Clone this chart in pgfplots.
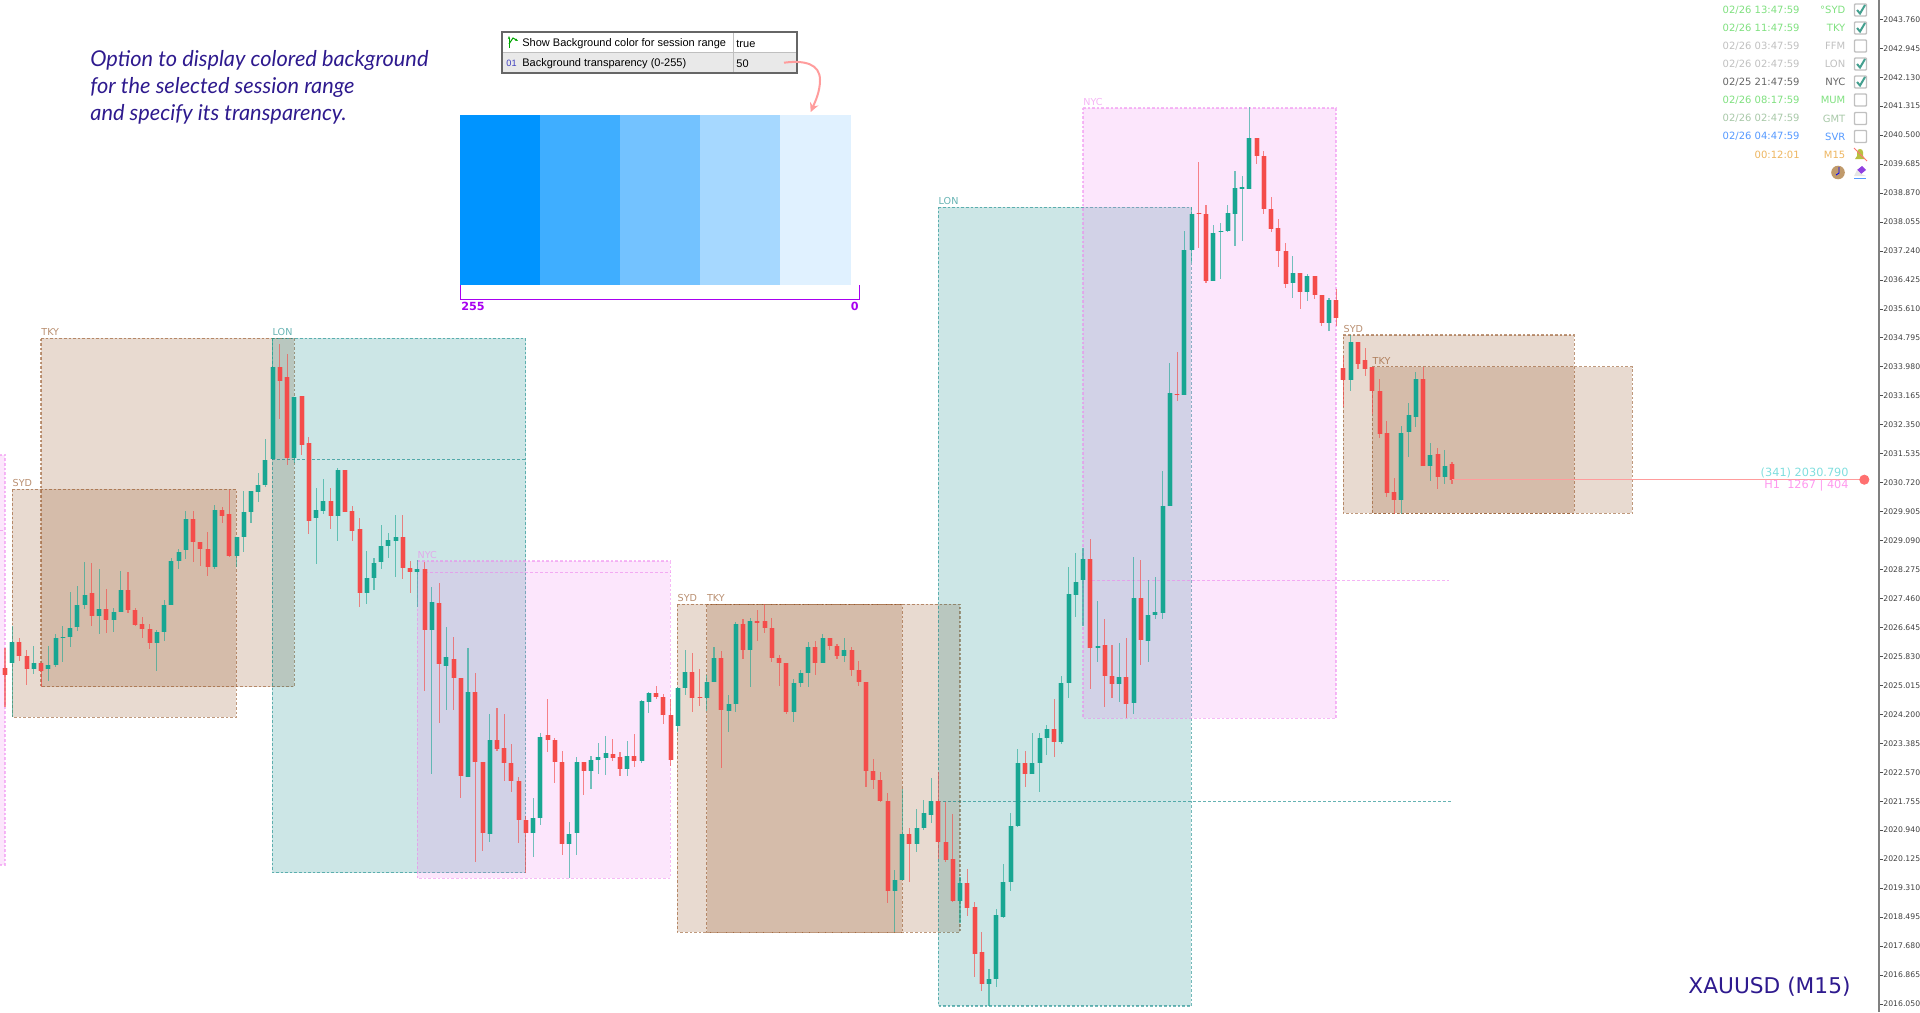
\documentclass[border=0pt]{standalone}
\usepackage{fontspec}
\usepackage{pgfplots}
\usepackage{pgfplotstable}
\pgfplotsset{compat=1.18}
\usetikzlibrary{arrows.meta}
\setmainfont{DejaVu Sans}
\newfontfamily\lib{Liberation Sans}
\newfontfamily\hand{Lato}
\definecolor{gc}{HTML}{18A692}
\definecolor{rc}{HTML}{F44C4A}
\definecolor{sb}{RGB}{139,69,19}
\definecolor{tl}{RGB}{0,128,128}
\definecolor{vi}{RGB}{238,130,238}
\definecolor{ink}{HTML}{2E1A8E}
\definecolor{pur}{HTML}{A800F0}
\definecolor{lgr}{HTML}{7FE07F}
\definecolor{gry}{HTML}{C0C0C0}
\definecolor{chk}{HTML}{45A090}
\definecolor{sa}{HTML}{0094FF}
\definecolor{sc}{HTML}{3FAEFF}
\definecolor{sd}{HTML}{73C2FF}
\definecolor{se}{HTML}{A6D8FF}
\definecolor{sf}{HTML}{E0F1FF}
\definecolor{org}{HTML}{EDB55F}
\definecolor{tan}{HTML}{C09A6B}
\definecolor{cya}{HTML}{80DEDE}
\definecolor{pnk}{HTML}{FF99EE}
\definecolor{plin}{HTML}{FF9C9C}
\definecolor{pdot}{HTML}{FF7070}
\definecolor{gmtc}{HTML}{A8C8A8}
\definecolor{svrc}{HTML}{5599FF}
\definecolor{bell}{HTML}{B8C040}
\definecolor{eras}{HTML}{9040E0}
\newcommand{\fs}[1]{\fontsize{#1pt}{#1pt}\selectfont}
% n high bodytop bodybottom low direction(1 up, 0 down); vertical values in chart pixels
\pgfplotstableread{
n h t b l d
0 648 668 675 707 0
1 626 642 663 717 1
2 638 642 656 661 0
3 650 656 669 685 0
4 646 663 669 674 1
5 663 663 671 687 0
6 646 665 669 681 1
7 634 638 665 667 1
8 626 637 638 662 1
9 592 628 637 647 1
10 586 605 627 631 1
11 562 595 605 609 1
12 563 593 616 626 0
13 569 609 616 634 1
14 589 609 620 633 0
15 608 612 620 632 1
16 571 590 612 612 1
17 572 590 610 613 0
18 608 610 625 626 0
19 617 624 629 638 0
20 624 629 643 649 0
21 630 632 643 671 1
22 600 605 632 641 1
23 558 561 605 605 1
24 549 552 561 569 1
25 511 519 550 559 1
26 511 519 542 562 0
27 542 542 549 566 0
28 532 549 567 576 0
29 505 510 567 569 1
30 507 510 516 523 0
31 490 514 556 557 0
32 537 537 556 567 1
33 491 512 537 552 1
34 491 491 512 523 1
35 473 485 492 502 1
36 439 460 485 487 1
37 338 367 459 459 1
38 344 367 381 419 0
39 354 377 458 465 0
40 397 397 458 463 1
41 396 396 445 455 0
42 437 443 521 534 0
43 488 510 518 564 1
44 479 501 511 514 1
45 488 501 516 529 0
46 468 470 516 541 1
47 470 470 512 512 0
48 506 511 531 541 0
49 518 529 593 607 0
50 551 578 593 604 1
51 558 563 578 590 1
52 525 546 562 569 1
53 533 540 546 558 1
54 515 537 541 577 1
55 515 537 568 579 0
56 561 568 572 593 0
57 560 569 572 607 1
58 562 569 630 691 0
59 587 602 630 774 1
60 583 603 664 723 0
61 627 657 666 710 1
62 637 659 678 710 0
63 678 678 776 798 0
64 648 692 777 777 1
65 673 692 762 862 0
66 762 762 833 851 0
67 714 740 834 842 1
68 708 740 749 751 0
69 714 748 763 781 0
70 744 763 781 792 0
71 777 781 820 843 0
72 816 820 833 873 0
73 798 818 833 857 1
74 733 737 818 825 1
75 699 735 740 752 0
76 738 740 762 783 0
77 751 762 844 855 0
78 822 834 844 878 1
79 757 762 833 855 1
80 762 762 771 795 0
81 756 760 771 789 1
82 743 757 760 774 1
83 736 753 758 775 1
84 739 754 758 761 0
85 752 757 769 776 0
86 741 756 769 776 1
87 734 756 761 767 0
88 700 701 761 763 1
89 692 693 702 713 1
90 686 693 697 699 0
91 694 697 715 724 0
92 699 715 760 766 0
93 687 688 726 732 1
94 650 672 688 695 1
95 653 672 698 712 0
96 669 697 698 706 0
97 675 682 698 711 1
98 647 658 682 682 1
99 651 658 710 768 0
100 695 704 711 732 1
101 622 624 704 712 1
102 619 624 650 659 0
103 618 621 650 687 1
104 610 621 623 641 0
105 604 621 628 633 0
106 618 628 658 662 0
107 655 658 663 686 0
108 663 663 712 714 0
109 679 683 712 722 1
110 670 673 683 687 1
111 642 647 673 687 1
112 641 647 663 675 0
113 634 638 663 663 1
114 638 638 646 650 0
115 644 646 656 659 0
116 638 650 656 662 1
117 647 650 670 676 0
118 661 670 682 686 0
119 682 682 771 787 0
120 759 771 780 789 0
121 772 780 801 802 0
122 793 801 891 903 0
123 870 880 891 932 1
124 789 834 880 880 1
125 828 834 844 882 0
126 809 828 844 852 1
127 800 813 828 830 1
128 778 801 815 823 1
129 772 801 842 859 0
130 802 842 860 862 0
131 814 859 901 902 0
132 877 883 901 923 1
133 869 883 908 916 0
134 902 907 954 977 0
135 932 952 984 991 0
136 969 979 984 1006 1
137 909 915 979 987 1
138 864 882 917 918 1
139 813 826 882 891 1
140 749 763 826 827 1
141 751 763 774 787 0
142 733 763 774 774 1
143 733 738 763 792 1
144 725 729 738 755 1
145 699 729 742 757 0
146 676 683 742 744 1
147 567 594 683 698 1
148 553 582 595 617 1
149 548 559 580 626 1
150 539 559 648 689 0
151 601 646 648 662 1
152 619 645 676 707 0
153 645 676 684 698 0
154 643 677 684 702 1
155 638 677 704 718 0
156 557 598 703 714 1
157 560 598 640 665 0
158 580 615 641 662 1
159 577 612 615 619 1
160 471 506 613 619 1
161 363 393 506 506 1
162 352 394 395 401 0
163 231 250 395 395 1
164 207 214 250 263 1
165 162 213 214 248 0
166 205 214 281 283 0
167 225 233 281 281 1
168 223 231 232 279 1
169 205 213 231 232 1
170 171 188 214 246 1
171 176 187 189 241 1
172 107 138 189 189 1
173 138 138 156 164 0
174 151 156 209 214 0
175 197 209 229 232 0
176 219 228 251 267 0
177 243 251 284 288 0
178 256 273 283 298 1
179 273 273 292 309 0
180 274 276 292 301 1
181 276 276 295 299 0
182 295 295 323 326 0
183 298 300 323 331 1
184 289 300 318 326 0
185 356 368 380 407 0
186 335 342 380 391 1
187 342 342 364 369 0
188 348 360 369 376 0
189 367 367 391 414 0
190 379 391 434 438 0
191 421 433 493 497 0
192 478 492 500 514 0
193 426 433 500 514 1
194 403 415 432 457 1
195 372 379 417 427 1
196 367 379 466 466 0
197 443 455 466 481 1
198 448 454 477 489 0
199 450 466 477 484 1
200 462 464 480 484 0
}\cdata
\newcommand{\sess}[5]{\addplot[forget plot,fill=#5,fill opacity=.2,draw=#5,draw opacity=.55,line width=.6pt,dash pattern=on 1.3pt off 1pt] coordinates {(#1,#3)(#2,#3)(#2,#4)(#1,#4)} --cycle;}
\newcommand{\midl}[4]{\addplot[forget plot,draw=#4,draw opacity=.6,line width=.5pt,dash pattern=on 1.5pt off 1pt] coordinates {(#1,#3)(#2,#3)};}
\newcommand{\swatch}[3]{\addplot[forget plot,fill=#3,draw=none] coordinates {(#1,115)(#2,115)(#2,285)(#1,285)} --cycle;}
\newcommand{\candles}[3]{% dir, colour, (wick opacity)
\addplot[forget plot,draw=none,error bars/.cd,y dir=plus,y explicit,error mark=none,error bar style={line width=.55pt,color=#2,opacity=#3}] table[x expr={\thisrow{d}==#1 ? 5+7.235*\thisrow{n} : nan},y=h,y error expr=\thisrow{l}-\thisrow{h}] {\cdata};
\addplot[forget plot,draw=none,error bars/.cd,y dir=plus,y explicit,error mark=none,error bar style={line width=3pt,color=#2,opacity=.28}] table[x expr={\thisrow{d}==#1 ? 5+7.235*\thisrow{n} : nan},y=t,y error expr=\thisrow{b}-\thisrow{t}] {\cdata};
\addplot[forget plot,draw=none,error bars/.cd,y dir=plus,y explicit,error mark=none,error bar style={line width=2pt,color=#2}] table[x expr={\thisrow{d}==#1 ? 5+7.235*\thisrow{n} : nan},y=t,y error expr=\thisrow{b}-\thisrow{t}] {\cdata};
}
\newcommand{\rowtxt}[5]{%
\node[anchor=east,inner sep=0pt,text=#4,font=\fs{5}] at (1800,#1) {#2};
\node[anchor=east,inner sep=0pt,text=#4,font=\fs{5}] at (1845.7,#1) {#3};
\draw[line width=.7pt,draw=#5,fill=white,rounded corners=.4pt] (1854.5,#1-6) rectangle (1866.5,#1+6);}
\newcommand{\chk}[1]{\draw[chk,line width=1pt] (1857,#1) -- (1860,#1+3.5) -- (1865,#1-5);}
\begin{document}
\begin{tikzpicture}
\useasboundingbox (0,0) rectangle (960pt,506pt);
\begin{axis}[
  at={(0,0)},anchor=south west,scale only axis,width=939.5pt,height=506pt,
  xmin=0,xmax=1879,ymin=0,ymax=1012,y dir=reverse,
  axis x line=none,axis y line*=right,
  xtick=\empty,
  ytick={19.3,48.26,77.22,106.18,135.14,164.1,193.06,222.02,250.98,279.94,308.9,337.86,366.82,395.78,424.74,453.7,482.66,511.62,540.58,569.54,598.5,627.46,656.42,685.38,714.34,743.3,772.26,801.22,830.18,859.14,888.1,917.06,946.02,974.98,1003.94},
  yticklabels={2043.760,2042.945,2042.130,2041.315,2040.500,2039.685,2038.870,2038.055,2037.240,2036.425,2035.610,2034.795,2033.980,2033.165,2032.350,2031.535,2030.720,2029.905,2029.090,2028.275,2027.460,2026.645,2025.830,2025.015,2024.200,2023.385,2022.570,2021.755,2020.940,2020.125,2019.310,2018.495,2017.680,2016.865,2016.050},
  tick align=outside,major tick length=2pt,
  tick style={draw=black!70,line width=.4pt},
  y axis line style={draw=black!50,line width=.8pt},
  yticklabel style={font=\fs{3.85},text=black!75,inner sep=0pt,xshift=0pt},
  unbounded coords=discard,
  clip=true,
]
% session ranges
\sess{-10}{5}{455}{865}{vi}
\midl{0}{5}{530}{vi}
\sess{12.3}{236.3}{489.3}{717.3}{sb}
\sess{41}{294.3}{338.3}{686.7}{sb}
\sess{272.3}{525.7}{338.3}{872.7}{tl}
\midl{272.3}{525.7}{459}{tl}
\sess{417.3}{670.3}{561}{878.3}{vi}
\midl{425}{670.3}{572}{vi}
\sess{677.3}{960}{604.3}{932.3}{sb}
\sess{706.7}{902.3}{604.3}{932.3}{sb}
\sess{938.3}{1191.3}{207.3}{1006}{tl}
\midl{938.3}{1451}{801}{tl}
\sess{1083}{1336}{108}{718.4}{vi}
\midl{1092}{1449}{580}{vi}
\sess{1343.3}{1574.3}{335}{513.3}{sb}
\sess{1372.3}{1632.3}{366.7}{513.3}{sb}
% colour scale
\swatch{460}{540}{sa}
\swatch{540}{620}{sc}
\swatch{620}{700}{sd}
\swatch{700}{780}{se}
\swatch{780}{851}{sf}
\addplot[forget plot,draw=pur,line width=.5pt] coordinates {(460.5,285)(460.5,299.3)(859,299.3)(859,285)};
% candles
\candles{1}{gc}{.6}
\candles{0}{rc}{.65}
% current price line
\addplot[forget plot,color=plin,line width=.5pt] coordinates {(1452,479.7)(1864,479.7)};
\addplot[forget plot,only marks,mark=*,mark size=2.3pt,color=pdot,mark options={fill=pdot,draw=pdot}] coordinates {(1864.3,479.7)};
% session labels
\foreach \x/\y/\t/\c in {12.3/489.3/SYD/sb,41/338.3/TKY/sb,272.3/338.3/LON/tl,417.3/561/NYC/vi,677.3/604.3/SYD/sb,706.7/604.3/TKY/sb,938.3/207.3/LON/tl,1083/108/NYC/vi,1343.3/335/SYD/sb,1372.3/366.7/TKY/sb}
  {\edef\tmp{\noexpand\node[anchor=south west,inner sep=0pt,text=\c,text opacity=.6,font=\noexpand\fs{4.8}] at (axis cs:\x,\y-2) {\t};}\tmp}
% annotation text
\node[anchor=base west,inner sep=0pt,text=ink,font=\hand\itshape\fs{10.9}] at (90,66.7) {Option to display colored background};
\node[anchor=base west,inner sep=0pt,text=ink,font=\hand\itshape\fs{10.9}] at (90,93.3) {for the selected session range};
\node[anchor=base west,inner sep=0pt,text=ink,font=\hand\itshape\fs{10.9}] at (90,120) {and specify its transparency.};
\node[anchor=base west,inner sep=0pt,text=ink,font=\fs{10.85}] at (1688,993) {XAUUSD (M15)};
% settings panel
\fill[white] (501.7,31.7) rectangle (796.7,52.7);
\fill[black!8.5] (501.7,52.7) rectangle (796.7,73.3);
\draw[black!25,line width=.4pt] (501.7,52.7) -- (796.7,52.7) (733.3,31.7) -- (733.3,73.3);
\draw[black!60,line width=1pt] (501.7,31.7) rectangle (796.7,73.3);
\draw[green!65!black,line width=.5pt,-{Stealth[length=1.6pt]}] (509,48) -- (509,36);
\draw[green!65!black,line width=.5pt,-{Stealth[length=1.6pt]}] (509,44) -- (513,38) -- (518,41);
\node[anchor=west,inner sep=0pt,font=\lib\fs{5.5},text=black] at (522,44) {Show Background color for session range};
\node[anchor=west,inner sep=0pt,font=\lib\fs{5.5},text=black] at (522,64) {Background transparency (0-255)};
\node[anchor=west,inner sep=0pt,font=\lib\fs{5.5},text=black] at (736,44) {true};
\node[anchor=west,inner sep=0pt,font=\lib\fs{5.5},text=black] at (736,64) {50};
\node[anchor=west,inner sep=0pt,font=\lib\fs{4.6},text=blue!50!gray] at (506,63) {01};
\draw[plin,line width=1pt,-{Stealth[length=4.5pt,width=4.5pt]}] (784,62.7) .. controls (805,60) and (820,64) .. (820,80) .. controls (820,92) and (815,102) .. (810.7,112);
\node[anchor=west,inner sep=0pt,text=pur,font=\bfseries\fs{5.6}] at (461,306.5) {255};
\node[anchor=east,inner sep=0pt,text=pur,font=\bfseries\fs{5.6}] at (859,306.5) {0};
% status panel
\rowtxt{10}{02/26 13:47:59}{°SYD}{lgr}{gry}\chk{10}
\rowtxt{28}{02/26 11:47:59}{TKY}{lgr}{gry}\chk{28}
\rowtxt{46}{02/26 03:47:59}{FFM}{gry}{gry}
\rowtxt{64}{02/26 02:47:59}{LON}{gry}{gry}\chk{64}
\rowtxt{82}{02/25 21:47:59}{NYC}{black!60}{gry}\chk{82}
\rowtxt{100}{02/26 08:17:59}{MUM}{lgr}{gry}
\rowtxt{118.5}{02/26 02:47:59}{GMT}{gmtc}{gry}
\rowtxt{136.5}{02/26 04:47:59}{SVR}{svrc}{gry}
\node[anchor=east,inner sep=0pt,text=org,font=\fs{5}] at (1800,154.5) {00:12:01};
\node[anchor=east,inner sep=0pt,text=org,font=\fs{5}] at (1845.7,154.5) {M15};
\fill[bell] (1855,159) -- (1857,156) -- (1857,152) .. controls (1857,148) and (1863,148) .. (1863,152) -- (1863,156) -- (1865,159) -- cycle;
\draw[red!55,line width=.5pt] (1854,148) -- (1867,161);
\fill[tan] (1838,172.5) circle[radius=3.4pt];
\draw[blue,line width=.4pt] (1839,167) -- (1839,173) -- (1836,175);
\fill[eras] (1857,170) -- (1862,166) -- (1866,170) -- (1861,174) -- cycle;
\fill[black!10] (1854,176) -- (1857,170) -- (1861,174) -- (1866,176) -- cycle;
\draw[svrc,line width=.5pt] (1854,178) -- (1866,178);
% price labels
\node[anchor=east,inner sep=0pt,text=cya,font=\fs{5.65}] at (1849,473) {(341) 2030.790};
\node[anchor=east,inner sep=0pt,text=pnk,font=\fs{5.65}] at (1849,486) {H1\ \ 1267 | 404};
\end{axis}
\end{tikzpicture}
\end{document}
